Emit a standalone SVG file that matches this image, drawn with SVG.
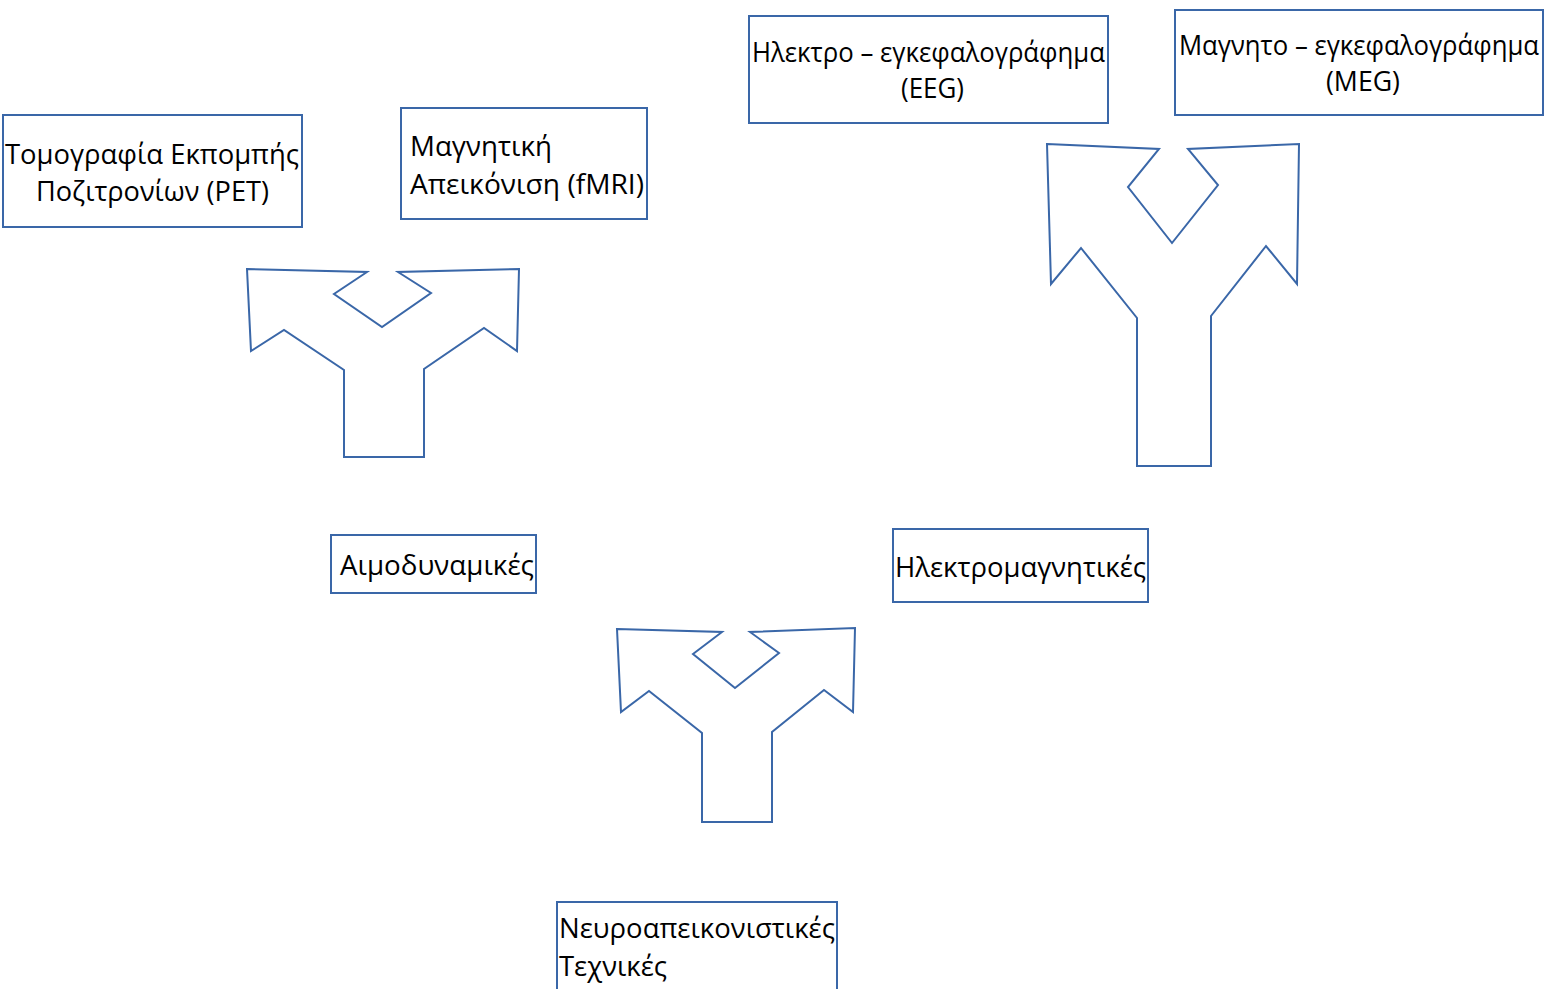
<svg xmlns="http://www.w3.org/2000/svg" width="1557" height="989" viewBox="0 0 1557 989">
<style>
.box{fill:#fff;stroke:#3A67A8;stroke-width:2}
.arr{fill:#fff;stroke:#3A67A8;stroke-width:2;stroke-linejoin:miter}
text{font-family:"Open Sans","Noto Sans",sans-serif;font-size:28px;fill:#000}
</style>
<rect width="1557" height="989" fill="#fff"/>
<g id="connectors">
<polygon class="arr" points="247,269 367,272 334,294 382,327 431,293 398,272 519,269 517,351 484,328 424,369 424,457 344,457 344,370 284,330 251,351"/>
<polygon class="arr" points="1047,144 1159,149 1128,187 1172,243 1218,185 1188,149 1299,144 1297,284 1266,246 1211,316 1211,466 1137,466 1137,318 1081,248 1051,284"/>
<polygon class="arr" points="617,629 722,632 693,654 735,688 779,653 750,632 855,628 853,712 824,690 772,732 772,822 702,822 702,733 649,691 621,712"/>
</g>
<g id="pet">
<rect class="box" x="3" y="115" width="299" height="112"/>
<text x="5" y="164" textLength="294" lengthAdjust="spacingAndGlyphs">Τομογραφία Εκπομπής</text>
<text x="36" y="201" textLength="233" lengthAdjust="spacingAndGlyphs">Ποζιτρονίων (PET)</text>
</g>
<g id="fmri">
<rect class="box" x="401" y="108" width="246" height="111"/>
<text x="410" y="156" textLength="142" lengthAdjust="spacingAndGlyphs">Μαγνητική</text>
<text x="410" y="194" textLength="234" lengthAdjust="spacingAndGlyphs">Απεικόνιση (fMRI)</text>
</g>
<g id="eeg">
<rect class="box" x="749" y="16" width="359" height="107"/>
<text x="752" y="62" textLength="353" lengthAdjust="spacingAndGlyphs">Ηλεκτρο – εγκεφαλογράφημα</text>
<text x="901" y="98" textLength="63" lengthAdjust="spacingAndGlyphs">(EEG)</text>
</g>
<g id="meg">
<rect class="box" x="1175" y="10" width="368" height="105"/>
<text x="1179" y="55" textLength="360" lengthAdjust="spacingAndGlyphs">Μαγνητο – εγκεφαλογράφημα</text>
<text x="1326" y="91" textLength="74" lengthAdjust="spacingAndGlyphs">(MEG)</text>
</g>
<g id="aimodynamikes">
<rect class="box" x="331" y="535" width="205" height="58"/>
<text x="340" y="575" textLength="194" lengthAdjust="spacingAndGlyphs">Αιμοδυναμικές</text>
</g>
<g id="ilektromagnitikes">
<rect class="box" x="893" y="529" width="255" height="73"/>
<text x="895" y="577" textLength="251" lengthAdjust="spacingAndGlyphs">Ηλεκτρομαγνητικές</text>
</g>
<g id="neuro">
<rect class="box" x="557" y="902" width="280" height="100"/>
<text x="559" y="938" textLength="276" lengthAdjust="spacingAndGlyphs">Νευροαπεικονιστικές</text>
<text x="559" y="976" textLength="108" lengthAdjust="spacingAndGlyphs">Τεχνικές</text>
</g>
</svg>
